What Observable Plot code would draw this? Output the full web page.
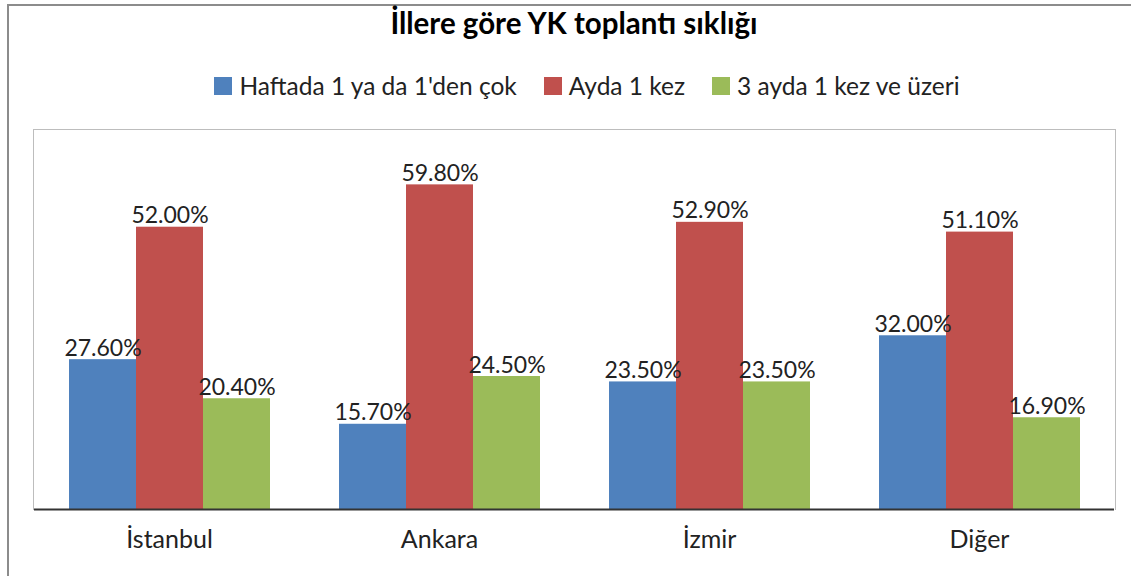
<!DOCTYPE html>
<html>
<head>
<meta charset="utf-8">
<script src="https://cdn.jsdelivr.net/npm/d3@7"></script>
<script src="https://cdn.jsdelivr.net/npm/@observablehq/plot@0.6"></script>
<style>
  html, body { margin: 0; padding: 0; background: #fff; overflow: hidden; width: 1131px; height: 576px; }
  #wrap { position: relative; width: 1131px; height: 576px; font-family: Lato, "Open Sans", sans-serif; color: #222; }
  #border { position: absolute; left: 7px; top: 4px; width: 1140px; height: 600px; border: 2px solid #8c8c8c; box-sizing: border-box; }
  #plotframe { position: absolute; left: 33px; top: 129px; width: 1083px; height: 381px; border: 1px solid #bdbdbd; border-bottom: none; box-sizing: border-box; z-index: 0; }
  #title { position: absolute; left: 33px; width: 1082px; top: 5px; text-align: center; font-weight: bold; font-size: 29.5px; color: #000; z-index: 2; }
  #legend { position: absolute; left: 33px; width: 1108px; top: 71px; display: flex; justify-content: center; gap: 27px; font-size: 24.5px; z-index: 2; }
  .item { display: flex; align-items: center; gap: 7px; }
  .sw { width: 18px; height: 18px; display: inline-block; }
  #chart { position: absolute; left: 0; top: 0; z-index: 1; }
</style>
</head>
<body>
<div id="wrap">
  <div id="border"></div>
  <div id="plotframe"></div>
  <div id="title"></div>
  <div id="legend"></div>
  <div id="chart"></div>
</div>
<script>
const titleText = "İllere göre YK toplantı sıklığı";
const cities = ["İstanbul", "Ankara", "İzmir", "Diğer"];
const seriesNames = ["Haftada 1 ya da 1'den çok", "Ayda 1 kez", "3 ayda 1 kez ve üzeri"];
const seriesColors = ["#4F81BD", "#C0504D", "#9BBB59"];
const weekly = [27.6, 15.7, 23.5, 32.0];
const monthly = [52.0, 59.8, 52.9, 51.1];
const quarterly = [20.4, 24.5, 23.5, 16.9];

const valuesBySeries = [weekly, monthly, quarterly];
const data = [];
cities.forEach((c, i) => {
  seriesNames.forEach((s, j) => {
    data.push({city: c, series: s, value: valuesBySeries[j][i]});
  });
});

document.getElementById("title").textContent = titleText;
const legend = document.getElementById("legend");
seriesNames.forEach((s, j) => {
  const it = document.createElement("div");
  it.className = "item";
  const sw = document.createElement("span");
  sw.className = "sw";
  sw.style.background = seriesColors[j];
  const t = document.createElement("span");
  t.textContent = s;
  it.appendChild(sw);
  it.appendChild(t);
  legend.appendChild(it);
});

const chart = Plot.plot({
  width: 1131,
  height: 570,
  marginTop: 129,
  marginLeft: 33,
  marginRight: 16,
  marginBottom: 61,
  style: {background: "transparent", fontFamily: "Lato, 'Open Sans', sans-serif", fontSize: "22px", color: "#222"},
  fx: {domain: cities, padding: 0, label: null},
  x: {domain: seriesNames, paddingInner: 0, paddingOuter: 0.51, axis: null},
  y: {domain: [0, 70], axis: null},
  color: {domain: seriesNames, range: seriesColors},
  marks: [
    Plot.barY(data, {fx: "city", x: "series", y: "value", fill: "series", inset: 0}),
    Plot.text(data, {fx: "city", x: "series", y: "value", text: d => d.value.toFixed(2) + "%", lineAnchor: "bottom", dy: -4, fill: "#222", fontSize: 23}),
    Plot.ruleY([0], {stroke: "#333", strokeWidth: 2}),
    Plot.axisFx({anchor: "bottom", tickSize: 0, tickPadding: 21, label: null, fontSize: 25, fill: "#222"})
  ]
});
document.getElementById("chart").appendChild(chart);
</script>
</body>
</html>
